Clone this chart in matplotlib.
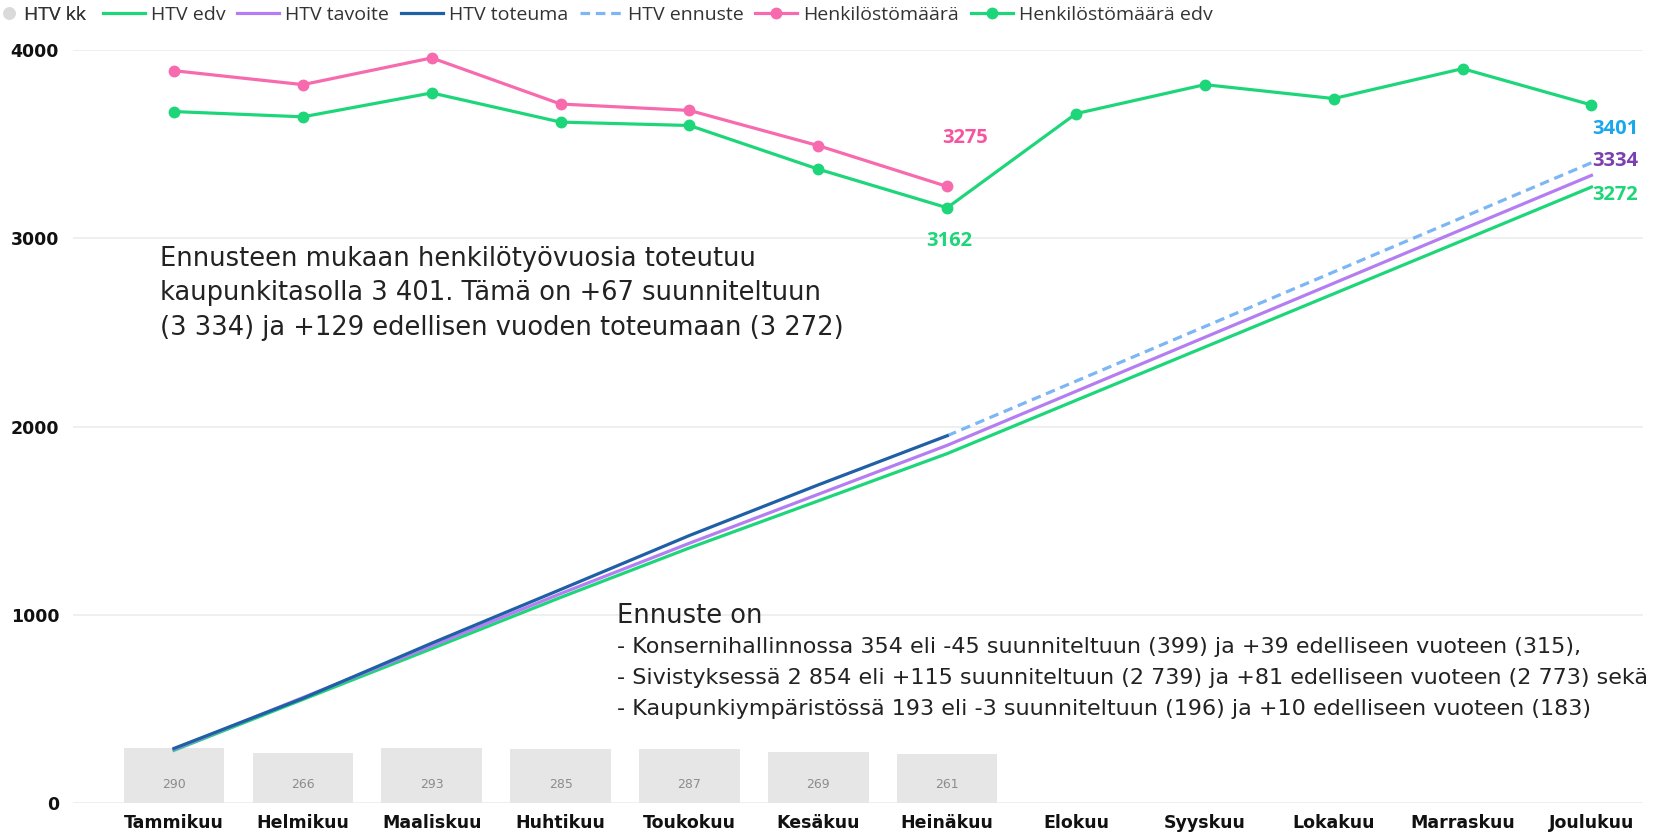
import matplotlib.pyplot as plt
import numpy as np
from matplotlib.lines import Line2D

# kuukaudet ja kuukausittaiset htv-arvot
months = ['Tammikuu', 'Helmikuu', 'Maaliskuu', 'Huhtikuu', 'Toukokuu', 'Kesäkuu',
          'Heinäkuu', 'Elokuu', 'Syyskuu', 'Lokakuu', 'Marraskuu', 'Joulukuu']
htv_kk = [290, 266, 293, 285, 287, 269, 261]
htv_toteuma = [290, 556, 849, 1134, 1421, 1690, 1951]
htv_ennuste = [1951, 2241, 2531, 2821, 3111, 3401]
htv_tavoite = [285, 560, 835, 1112, 1380, 1640, 1900, 2187, 2474, 2761, 3048, 3334]
htv_edv = [280, 550, 820, 1092, 1355, 1605, 1856, 2139, 2422, 2705, 2988, 3272]
henkilosto = [3890, 3816, 3958, 3713, 3679, 3492, 3275]
henkilosto_edv = [3673, 3645, 3772, 3617, 3599, 3367, 3162, 3662, 3816, 3742, 3901, 3708]

C_KK = '#E6E6E6'
C_EDV = '#1ED67A'
C_TAV = '#B47EF2'
C_TOT = '#1F5FA6'
C_ENN = '#7DB6F5'
C_HM = '#F76AAE'
BODY = 'DejaVu Sans'
LABELFONT = ['Open Sans', 'DejaVu Sans']

fig = plt.figure(figsize=(16.78, 8.35), dpi=100)
ax = fig.add_axes([73 / 1678, 32 / 835, 1570 / 1678, 753 / 835])

x = np.arange(len(months))
ax.bar(x[:len(htv_kk)], htv_kk, width=0.78, color=C_KK, zorder=1)
for xi, v in zip(x, htv_kk):
    ax.annotate(str(v), (xi, 0), xytext=(0, 19), textcoords='offset pixels',
                ha='center', va='center', fontsize=9, color='#8C8C8C', family=BODY)

lw = 2.3
dash = (0, (3, 1.8))
ax.plot(x, htv_edv, color=C_EDV, lw=lw, zorder=3)
ax.plot(x, htv_tavoite, color=C_TAV, lw=lw, zorder=3)
ax.plot(x[:len(htv_toteuma)], htv_toteuma, color=C_TOT, lw=lw, zorder=4)
ax.plot(x[6:], htv_ennuste, color=C_ENN, lw=lw, ls=dash, zorder=3)
ax.plot(x[:len(henkilosto)], henkilosto, color=C_HM, lw=lw, marker='o', ms=7.5,
        zorder=5, clip_on=False)
ax.plot(x, henkilosto_edv, color=C_EDV, lw=lw, marker='o', ms=7.5,
        zorder=5, clip_on=False)

# arvolabelit
lab = dict(textcoords='offset pixels', ha='center', va='center', fontsize=14.5,
           family=LABELFONT, fontweight='bold')
ax.annotate(str(henkilosto[-1]), (6, henkilosto[-1]), xytext=(18, 48), color='#F7549F', **lab)
ax.annotate(str(henkilosto_edv[6]), (6, henkilosto_edv[6]), xytext=(2, -33), color='#1ED67A', **lab)
ax.annotate(str(htv_ennuste[-1]), (11, htv_ennuste[-1]), xytext=(24, 34), color='#1AA7EE', **lab)
ax.annotate(str(htv_tavoite[-1]), (11, htv_tavoite[-1]), xytext=(24, 14), color='#7B3FB0', **lab)
ax.annotate(str(htv_edv[-1]), (11, htv_edv[-1]), xytext=(24, -8), color='#1ED67A', **lab)

ax.text(-0.109, 2960, 'Ennusteen mukaan henkilötyövuosia toteutuu\n'
        'kaupunkitasolla 3 401. Tämä on +67 suunniteltuun\n'
        '(3 334) ja +129 edellisen vuoden toteumaan (3 272)',
        ha='left', va='top', fontsize=18.5, linespacing=1.42, color='#222222', family=BODY)
ax.text(3.436, 1060, 'Ennuste on', ha='left', va='top', fontsize=18.5,
        color='#222222', family=BODY)
ax.text(3.436, 882,
        '- Konsernihallinnossa 354 eli -45 suunniteltuun (399) ja +39 edelliseen vuoteen (315),\n'
        '- Sivistyksessä 2 854 eli +115 suunniteltuun (2 739) ja +81 edelliseen vuoteen (2 773) sekä\n'
        '- Kaupunkiympäristössä 193 eli -3 suunniteltuun (196) ja +10 edelliseen vuoteen (183)',
        ha='left', va='top', fontsize=16, linespacing=1.7, color='#222222', family=BODY)

ax.set_xlim(-0.784, 11.4)
ax.set_ylim(0, 4000)
ax.set_yticks([0, 1000, 2000, 3000, 4000])
ax.set_xticks(x)
ax.set_xticklabels(months, fontsize=12.5, fontweight='bold', family=BODY)
for t in ax.get_yticklabels():
    t.set_fontsize(12.5)
    t.set_fontweight('bold')
ax.tick_params(axis='both', length=0, colors='#111111')
ax.tick_params(axis='y', pad=10)
ax.tick_params(axis='x', pad=8)
ax.grid(axis='y', color='#ECECEC', lw=1.2, zorder=0)
ax.set_axisbelow(True)
for s in ax.spines.values():
    s.set_visible(False)

# selite yläreunaan: pylväs erikseen, viivat omaan riviinsä
leg_kw = dict(loc='upper left', frameon=False, borderpad=0, borderaxespad=0,
              prop={'size': 14, 'family': LABELFONT}, labelcolor='#333333')
leg1 = fig.legend([Line2D([], [], ls='none', marker='o', ms=8, color='#DADADA')],
                  ['HTV kk'], bbox_to_anchor=(0.0006, 0.993),
                  handlelength=0.8, handletextpad=0.4, **leg_kw)
handles = [Line2D([], [], color=C_EDV, lw=lw),
           Line2D([], [], color=C_TAV, lw=lw),
           Line2D([], [], color=C_TOT, lw=lw),
           Line2D([], [], color=C_ENN, lw=lw, ls=dash),
           Line2D([], [], color=C_HM, lw=lw, marker='o', ms=7.5),
           Line2D([], [], color=C_EDV, lw=lw, marker='o', ms=7.5)]
names = ['HTV edv', 'HTV tavoite', 'HTV toteuma', 'HTV ennuste',
         'Henkilöstömäärä', 'Henkilöstömäärä edv']
fig.legend(handles, names, bbox_to_anchor=(103 / 1678, 0.993), ncol=6,
           handlelength=2.16, handletextpad=0.31, columnspacing=0.6, **leg_kw)
fig.add_artist(leg1)

fig.savefig('out.png', dpi=100)
